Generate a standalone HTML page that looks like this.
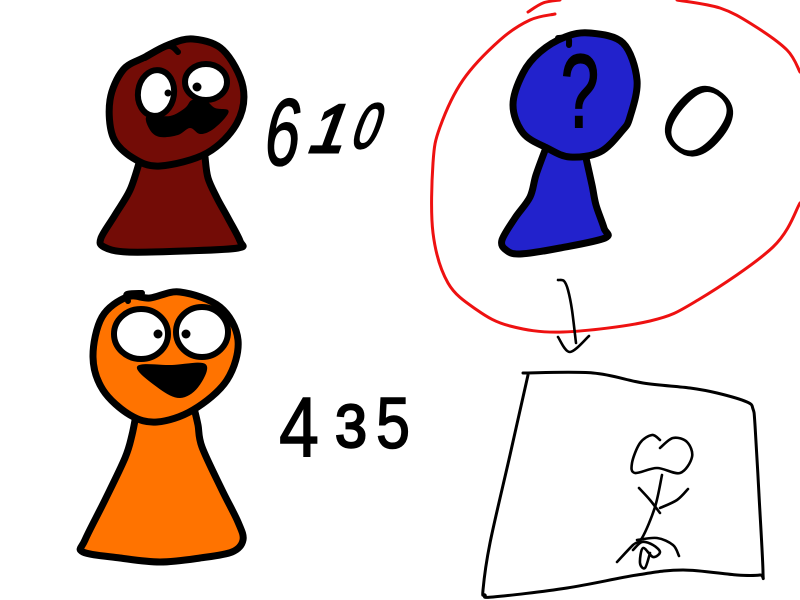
<!DOCTYPE html>
<html lang="en">
<head>
<meta charset="utf-8">
<title>Pawn sketch</title>
<style>
html,body{margin:0;padding:0;background:#fff;}
svg{display:block;}
text{font-family:"Liberation Sans",sans-serif;fill:#000;stroke:#000;stroke-width:1.5;}
.ink{stroke:#000;stroke-linejoin:round;stroke-linecap:round;}
.thick{stroke-width:7;}
.thin{stroke-width:2.6;fill:none;}
.red{stroke:#ee1111;stroke-width:3;fill:none;stroke-linecap:round;stroke-linejoin:round;}
</style>
</head>
<body>
<svg width="800" height="600" viewBox="0 0 800 600" xmlns="http://www.w3.org/2000/svg">
  <rect x="0" y="0" width="800" height="600" fill="#fff"/>

  <g>
    <path class="ink thick" fill="#730c06" data-open="1" data-pts="140,160 130,190 115,215 101,238 104,247 127,252 185,251 238,248 240,241 228,218 217,198 208,178 205,157"/>
    <path class="ink thick" fill="#730c06" data-pts="145,57 168,45 193,39 223,50 243,87 237,123 207,153 160,166 133,158 113,137 110,100 123,70"/>
    <path class="ink" style="stroke-width:6" fill="none" data-open="1" data-pts="145,58 168,46 178,52"/>
    <ellipse class="ink" style="stroke-width:6" cx="156" cy="93" rx="18" ry="23" fill="#fff" transform="rotate(8 156 93)"/>
    <ellipse class="ink" style="stroke-width:6" cx="206" cy="82" rx="21" ry="18" fill="#fff"/>
    <circle cx="168" cy="93" r="3.5" fill="#000"/>
    <circle cx="197" cy="87" r="4.5" fill="#000"/>
    <path fill="#000" data-pts="147,116 150,130 160,137 178,135 190,128 200,134 212,130 225,118 228,110 215,108 205,100 192,100 185,108 170,116"/>
    <text transform="translate(279 165) skewX(-8) scale(.66 1)" font-size="95" text-anchor="middle">6</text>
    <text transform="translate(323 152) skewX(-20) scale(.95 1)" font-size="68" text-anchor="middle" style="stroke-width:3">1</text>
    <text transform="translate(361 148) skewX(-20) scale(.72 1)" font-size="64" text-anchor="middle" style="stroke-width:2">0</text>
  </g>

  <g>
    <path class="ink thick" fill="#ff7300" data-open="1" data-pts="136,415 132,435 125,458 105,500 85,540 83,552 120,558 160,562 200,558 232,552 243,540 238,522 222,490 202,447 198,425 194,408"/>
    <path class="ink thick" fill="#ff7300" data-pts="127,297 150,298 180,292 220,307 238,340 227,380 193,410 157,422 130,415 103,390 93,357 102,317"/>
    <path class="ink" style="stroke-width:6" fill="none" data-open="1" data-pts="128,301 127,294 142,293"/>
    <ellipse class="ink" style="stroke-width:6" cx="141" cy="334" rx="27" ry="25" fill="#fff"/>
    <ellipse class="ink" style="stroke-width:6" cx="202" cy="332" rx="26" ry="25" fill="#fff"/>
    <circle cx="158" cy="334" r="4.5" fill="#000"/>
    <circle cx="186" cy="334" r="4.5" fill="#000"/>
    <path class="ink" style="stroke-width:2" fill="#000" data-pts="138,367 172,366 205,365 197,387 180,397 160,388"/>
    <text transform="translate(299 456) scale(.85 1)" font-size="84" text-anchor="middle">4</text>
    <text transform="translate(351 447) scale(.95 1)" font-size="60" text-anchor="middle" style="stroke-width:2.5">3</text>
    <text transform="translate(393 448) scale(.85 1)" font-size="72" text-anchor="middle">5</text>
  </g>

  <g>
    <path class="ink thick" fill="#2222cc" data-open="1" data-pts="547,145 536,175 530,197 515,218 502,240 506,250 520,254 560,248 605,238 604,228 596,205 592,185 586,158"/>
    <path class="ink thick" fill="#2222cc" data-pts="540,52 565,37 590,33 623,43 637,80 630,117 622,131 600,152 570,157 547,148 523,133 513,105 523,73"/>
    <path class="ink" style="stroke-width:6" fill="none" data-open="1" data-pts="558,38 568,38 569,45"/>
    <text transform="translate(580 127) scale(.66 1)" font-size="104" text-anchor="middle" style="stroke-width:2">?</text>
    <text transform="translate(700 120) rotate(40) scale(1.25 1.08) translate(0 36)" font-size="100" text-anchor="middle" style="stroke:#fff;stroke-width:2.5">0</text>
  </g>

  <path class="red" data-open="1" data-pts="528,12 543,3 560,0"/>
  <path class="red" data-open="1" data-pts="555,14 530,20 500,40 463,80 440,127 433,163 433,233 448,283 477,310 510,326 563,332 650,321 698,300 773,247 800,203"/>
  <path class="red" data-open="1" data-pts="677,0 720,8 753,25 787,50 800,72"/>

  <g>
    <path class="ink thin" data-open="1" data-pts="558,280 564,281 568,290 572,310 576,343"/>
    <path class="ink thin" data-open="1" data-pts="558,337 570,352 589,336"/>
  </g>

  <g>
    <path class="ink" style="stroke-width:3" fill="none" data-open="1" data-pts="523,373 593,373 643,383 690,388 717,393 747,402 753,409 755,425 759,495 763,572 760,575 737,575 683,570 637,575 567,588 493,597 485,595 483,590 490,543 510,455 528,375"/>
    <path class="ink thin" data-open="1" data-pts="660,440 652,435 640,443 632,463 635,473 657,468 680,473 692,457 687,442 673,438 660,448"/>
    <path class="ink thin" data-open="1" data-pts="662,475 655,507 642,538 633,545 617,562"/>
    <path class="ink thin" data-open="1" data-pts="639,488 650,500 660,513"/>
    <path class="ink thin" data-open="1" data-pts="688,489 677,500 660,508"/>
    <path class="ink thin" data-open="1" data-pts="637,540 657,538 673,545 679,556"/>
    <path class="ink thin" data-open="1" data-pts="633,550 642,542 653,545 660,552 653,557 643,548 640,563 645,568 650,553"/>
  </g>

  <script>
    var sketchPaths = document.querySelectorAll('path[data-pts]');
    sketchPaths.forEach(function (el) {
      var pts = el.getAttribute('data-pts').trim().split(/\s+/).map(function (s) {
        return s.split(',').map(Number);
      });
      var open = el.hasAttribute('data-open');
      var n = pts.length;
      function at(i) {
        if (open) return pts[Math.max(0, Math.min(n - 1, i))];
        return pts[(i + n) % n];
      }
      var d = 'M' + pts[0][0] + ' ' + pts[0][1];
      var last = open ? n - 1 : n;
      for (var i = 0; i < last; i++) {
        var p0 = at(i - 1), p1 = at(i), p2 = at(i + 1), p3 = at(i + 2);
        var c1x = p1[0] + (p2[0] - p0[0]) / 6, c1y = p1[1] + (p2[1] - p0[1]) / 6;
        var c2x = p2[0] - (p3[0] - p1[0]) / 6, c2y = p2[1] - (p3[1] - p1[1]) / 6;
        d += 'C' + c1x.toFixed(1) + ' ' + c1y.toFixed(1) + ' ' + c2x.toFixed(1) + ' ' + c2y.toFixed(1) + ' ' + p2[0] + ' ' + p2[1];
      }
      if (!open) d += 'Z';
      el.setAttribute('d', d);
    });
  </script>
</svg>
</body>
</html>
